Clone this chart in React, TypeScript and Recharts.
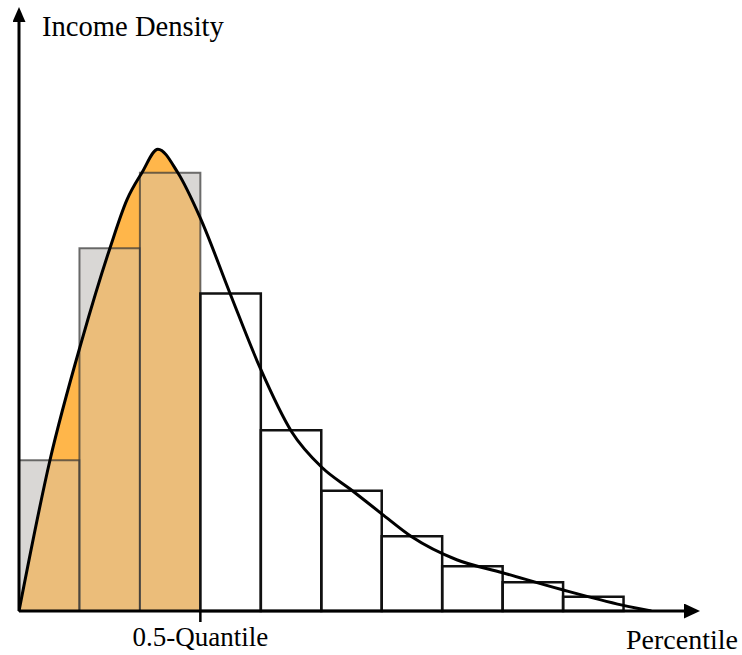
import React from 'react';
import { ComposedChart, Line, Area, XAxis, YAxis, ReferenceArea } from 'recharts';

// Histogram bins (x in bin-width units) and their heights (density units)
const binEdges = [0, 1, 2, 3, 4, 5, 6, 7, 8, 9, 10];
const barHeights = [25.6, 61.6, 74.4, 53.9, 30.7, 20.4, 12.7, 7.6, 4.9, 2.4];

// Smooth density curve
const curveX = [0, 0.512, 1.041, 1.504, 1.785, 2.033, 2.298, 2.628, 3.0, 3.488, 3.983, 4.512, 5.008, 5.504, 6.0, 6.496, 7.24, 8.0, 8.99, 9.98, 10.46];
const curveY = [0, 25.6, 46.0, 61.6, 69.8, 74.4, 78.4, 74.4, 66.7, 54.0, 41.4, 30.4, 24.4, 20.5, 16.5, 12.6, 8.7, 6.5, 3.6, 1.0, 0];

// Tick (median) position and label
const quantileTicks = [3];
const quantileLabels = ['0.5-Quantile'];

const yAxisTitle = 'Income Density';
const xAxisTitle = 'Percentile';

const curveData = curveX.map((x, i) => ({ x, y: curveY[i] }));
const shadedData = curveData.filter((d) => d.x <= quantileTicks[0]);
const bars = barHeights.map((h, i) => ({ x1: binEdges[i], x2: binEdges[i + 1], h }));

const FONT = 'Liberation Serif';

const QuantileTick = (props: any) => {
  const { x, y, payload } = props;
  const label = quantileLabels[quantileTicks.indexOf(payload.value)] ?? '';
  return (
    <text x={x} y={y} dy={19} textAnchor="middle" fill="#000" fontSize={27} style={{ fontFamily: FONT }}>
      {label}
    </text>
  );
};

export default function App() {
  return (
    <div style={{ position: 'absolute', left: 0, top: 0, width: 742, height: 655 }}>
      <svg width={0} height={0} style={{ position: 'absolute' }}>
        <defs>
          <marker id="arrowX" markerUnits="userSpaceOnUse" markerWidth={16} markerHeight={15} viewBox="0 0 16 15" refX={0} refY={7.5} orient="auto">
            <path d="M0,0 L16,7.5 L0,15 Z" fill="#000" />
          </marker>
          <marker id="arrowY" markerUnits="userSpaceOnUse" markerWidth={15} markerHeight={13} viewBox="0 0 15 13" refX={0} refY={6.5} orient="auto-start-reverse">
            <path d="M0,0 L15,6.5 L0,13 Z" fill="#000" />
          </marker>
        </defs>
      </svg>
      <ComposedChart width={742} height={655} margin={{ top: 22, right: 58, bottom: 4, left: 18 }}>
        {bars
          .filter((b) => b.x2 <= quantileTicks[0])
          .map((b, i) => (
            <ReferenceArea
              key={'base' + i}
              x1={b.x1}
              x2={b.x2}
              y1={0}
              y2={b.h}
              fill="#e2e2e2"
              fillOpacity={1}
              stroke="none"
              zIndex={50}
            />
          ))}
        <Area
          data={shadedData}
          dataKey="y"
          type="monotone"
          fill="#ffb64a"
          fillOpacity={1}
          stroke="none"
          isAnimationActive={false}
          zIndex={100}
        />
        {bars.map((b, i) =>
          b.x2 <= quantileTicks[0] ? (
            <ReferenceArea
              key={'bar' + i}
              x1={b.x1}
              x2={b.x2}
              y1={0}
              y2={b.h}
              fill="rgb(205,200,195)"
              fillOpacity={0.4}
              stroke="#333"
              strokeOpacity={0.7}
              strokeWidth={2}
              zIndex={150}
            />
          ) : (
            <ReferenceArea
              key={'bar' + i}
              x1={b.x1}
              x2={b.x2}
              y1={0}
              y2={b.h}
              fill="#fff"
              fillOpacity={0}
              stroke="#111"
              strokeOpacity={1}
              strokeWidth={2.5}
              zIndex={150}
            />
          )
        )}
        <Line
          data={curveData}
          dataKey="y"
          type="monotone"
          stroke="#000"
          strokeWidth={3}
          dot={false}
          activeDot={false}
          isAnimationActive={false}
          zIndex={400}
        />
        <XAxis
          dataKey="x"
          type="number"
          domain={[0, 11]}
          allowDataOverflow
          ticks={quantileTicks}
          interval={0}
          height={40}
          tickSize={11}
          tickMargin={5}
          axisLine={{ stroke: '#000', strokeWidth: 3, markerEnd: 'url(#arrowX)' }}
          tickLine={{ stroke: '#000', strokeWidth: 2.5 }}
          tick={<QuantileTick />}
        />
        <YAxis
          type="number"
          domain={[0, 100]}
          allowDataOverflow
          width={1}
          tick={false}
          tickLine={false}
          axisLine={{ stroke: '#000', strokeWidth: 3, markerStart: 'url(#arrowY)' }}
        />
      </ComposedChart>
      <svg width={742} height={655} style={{ position: 'absolute', left: 0, top: 0, pointerEvents: 'none' }}>
        <text x={42} y={36} fontSize={28.6} fill="#000" style={{ fontFamily: FONT }}>
          {yAxisTitle}
        </text>
        <text x={626} y={649} fontSize={28} fill="#000" style={{ fontFamily: FONT }}>
          {xAxisTitle}
        </text>
      </svg>
    </div>
  );
}
